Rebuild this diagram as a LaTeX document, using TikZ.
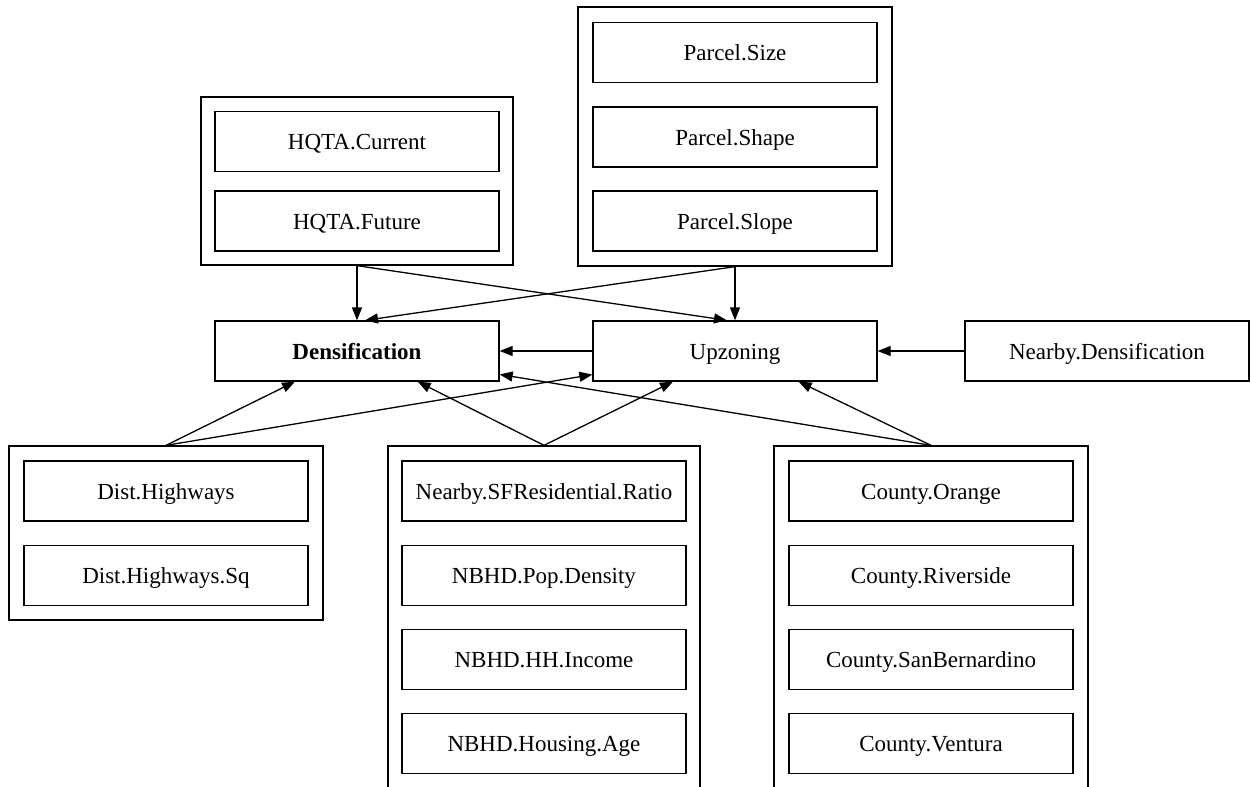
\documentclass[tikz,border=0pt]{standalone}
\usepackage{fontspec}
\setmainfont{Liberation Serif}
\usetikzlibrary{arrows.meta,calc}
\begin{document}
\begin{tikzpicture}[x=1pt,y=-1pt,
  lw/.style={line width=1.3pt},
  varbox/.style={draw, lw, minimum width=284pt, minimum height=60pt, inner sep=0pt, text height=18pt, text depth=2pt, font=\fontsize{23}{27}\selectfont},
  grp/.style={draw, lw, inner sep=0pt},
  arr/.style={lw, -{Triangle[length=13pt,width=10pt]}}]
\useasboundingbox (0,0) rectangle (1251,787);
\clip (0,0) rectangle (1251,787);
% clusters
\node[grp, minimum width=312pt, minimum height=168pt] (hqta) at (357,181) {};
\node[grp, minimum width=314pt, minimum height=259pt] (parcel) at (735,136.5) {};
\node[grp, minimum width=314pt, minimum height=174pt] (distg) at (166,533) {};
\node[grp, minimum width=312pt, minimum height=354pt] (nbhd) at (544,623) {};
\node[grp, minimum width=314pt, minimum height=354pt] (county) at (931,623) {};
% inner variables
\node[varbox] (hqc) at (357,141.5) {HQTA.Current};
\node[varbox] (hqf) at (357,221) {HQTA.Future};
\node[varbox] (psize) at (735,52.5) {Parcel.Size};
\node[varbox] (pshape) at (735,137) {Parcel.Shape};
\node[varbox] (pslope) at (735,221) {Parcel.Slope};
\node[varbox] (dh) at (166,491) {Dist.Highways};
\node[varbox] (dhs) at (166,575.5) {Dist.Highways.Sq};
\node[varbox] (nsf) at (544,491) {Nearby.SFResidential.Ratio};
\node[varbox] (npd) at (544,575.5) {NBHD.Pop.Density};
\node[varbox] (nhh) at (544,659.5) {NBHD.HH.Income};
\node[varbox] (nha) at (544,743.5) {NBHD.Housing.Age};
\node[varbox] (co) at (931,491) {County.Orange};
\node[varbox] (cr) at (931,575.5) {County.Riverside};
\node[varbox] (csb) at (931,659.5) {County.SanBernardino};
\node[varbox] (cv) at (931,743.5) {County.Ventura};
% outcomes
\node[varbox, font=\fontsize{23}{27}\selectfont\bfseries] (dens) at (357,351) {Densification};
\node[varbox] (upz) at (735,351) {Upzoning};
\node[varbox] (nd) at (1107,351) {Nearby.Densification};
% edges
\draw[arr] (hqta.south) -- (dens.north);
\draw[arr] (hqta.south) -- ($(upz.north)+(-8,0)$);
\draw[arr] (parcel.south) -- (upz.north);
\draw[arr] (parcel.south) -- ($(dens.north)+(8,0)$);
\draw[arr] (upz) -- (dens);
\draw[arr] (nd) -- (upz);
\draw[arr] (distg.north) -- (dens);
\draw[arr] (distg.north) -- (upz);
\draw[arr] (nbhd.north) -- (dens);
\draw[arr] (nbhd.north) -- (upz);
\draw[arr] (county.north) -- (dens);
\draw[arr] (county.north) -- (upz);
\end{tikzpicture}
\end{document}
